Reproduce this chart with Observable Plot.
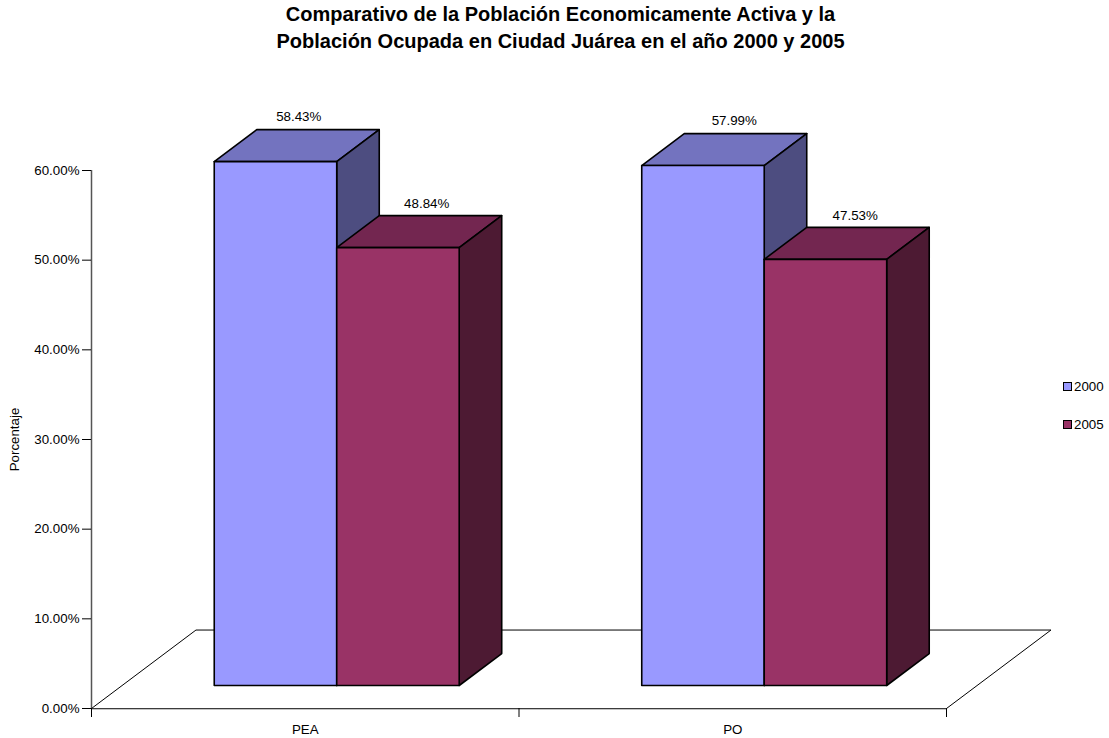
<!DOCTYPE html>
<html>
<head>
<meta charset="utf-8">
<script src="https://cdn.jsdelivr.net/npm/d3@7"></script>
<script src="https://cdn.jsdelivr.net/npm/@observablehq/plot@0.6"></script>
<style>
  html, body { margin: 0; padding: 0; background: #fff; }
  body { width: 1109px; height: 738px; position: relative; overflow: hidden; font-family: "Liberation Sans", Arial, sans-serif; color: #000; }
  #title { height: 90px; box-sizing: border-box; padding-top: 1px; padding-left: 12px; text-align: center; font-weight: bold; font-size: 20px; line-height: 27px; }
  #chart svg { display: block; }
  .legend { position: absolute; left: 1063px; font-size: 13.33px; display: flex; align-items: center; height: 14px; }
  .legend i { display: block; width: 7px; height: 7px; border: 1.5px solid #000; margin-right: 2px; }
</style>
</head>
<body>
<div id="title">Comparativo de la Población Economicamente Activa y la<br>Población Ocupada en Ciudad Juárea en el año 2000 y 2005</div>
<div id="chart"></div>
<div class="legend" style="top:379px"><i style="background:#9999FF"></i>2000</div>
<div class="legend" style="top:417px"><i style="background:#993366"></i>2005</div>
<script>
const categories = ["PEA", "PO"];
const series = ["2000", "2005"];
const values2000 = [58.43, 57.99];
const values2005 = [48.84, 47.53];
const yTicks = [0, 10, 20, 30, 40, 50, 60];

const frontColors = ["#9999FF", "#993366"];
const topColors = ["#7373BF", "#732650"];
const sideColors = ["#4D4D80", "#4D1A33"];

// oblique projection of the 3D floor, in scale units
const floorDx = 0.2444;   // x shift of the full floor depth
const floorDy = 8.75;     // y shift of the full floor depth
const depthFront = 0.293; // bar front, as a fraction of floor depth
const depthBack = 0.70;   // bar back
const groupInset = 0.2155;
const barWidth = 0.2865;
const labelNudge = [[2, 7.5], [10, 8.5]];
const labelLift = [-13, -12];

const project = (x, v, d) => ({x: x + d * floorDx, y: v + d * floorDy});

const allValues = [values2000, values2005];
const faces = [];
const labels = [];
categories.forEach((_, c) => {
  series.forEach((_, s) => {
    const v = allValues[s][c];
    const x0 = c + groupInset + s * barWidth;
    const x1 = x0 + barWidth;
    faces.push({color: topColors[s], pts: [project(x0, v, depthFront), project(x1, v, depthFront), project(x1, v, depthBack), project(x0, v, depthBack)]});
    faces.push({color: sideColors[s], pts: [project(x1, 0, depthFront), project(x1, v, depthFront), project(x1, v, depthBack), project(x1, 0, depthBack)]});
    faces.push({color: frontColors[s], pts: [project(x0, 0, depthFront), project(x1, 0, depthFront), project(x1, v, depthFront), project(x0, v, depthFront)]});
    const mid = project((x0 + x1) / 2, v, (depthFront + depthBack) / 2);
    labels.push({...project((x0 + x1) / 2, v, depthBack), x: mid.x, text: v.toFixed(2) + "%", dx: labelNudge[c][s], dy: labelLift[s]});
  });
});

const floor = [project(0, 0, 0), project(0, 0, 1), project(2, 0, 1), project(2, 0, 0)];

const fontFamily = '"Liberation Sans", Arial, sans-serif';
const chart = Plot.plot({
  width: 1109,
  height: 648,
  marginTop: 80,
  marginBottom: 30,
  marginLeft: 91,
  marginRight: 163,
  style: {fontFamily, fontSize: "13.33px", color: "#000", background: "#fff"},
  x: {domain: [0, 2], axis: null},
  y: {domain: [0, 60], axis: null},
  marks: [
    Plot.line(floor, {x: "x", y: "y", stroke: "#000", strokeWidth: 1, curve: "linear-closed"}),
    ...faces.map(f => Plot.line(f.pts, {x: "x", y: "y", fill: f.color, stroke: "#000", strokeWidth: 1.6, strokeLinejoin: "round", curve: "linear-closed"})),
    Plot.ruleX([0], {y1: 0, y2: 60, stroke: "#555", strokeWidth: 1.5}),
    Plot.axisY({ticks: yTicks, tickFormat: d => d.toFixed(2) + "%", tickSize: 9, tickPadding: 3, fontSize: 13.33, label: "Porcentaje", labelAnchor: "center", labelOffset: 82, labelArrow: "none", stroke: "#000"}),
    Plot.axisX({ticks: [0, 1, 2], tickSize: 9, tickFormat: () => "", label: null, stroke: "#000"}),
    Plot.axisX({ticks: categories.map((_, i) => i + 0.5), tickSize: 0, tickPadding: 16, tickFormat: d => categories[Math.floor(d)], fontSize: 13.33, label: null}),
    ...labels.map(l => Plot.text([l], {x: "x", y: "y", text: "text", dx: l.dx, dy: l.dy, fontSize: 13.33, fill: "#000"}))
  ]
});
document.getElementById("chart").appendChild(chart);
</script>
</body>
</html>
